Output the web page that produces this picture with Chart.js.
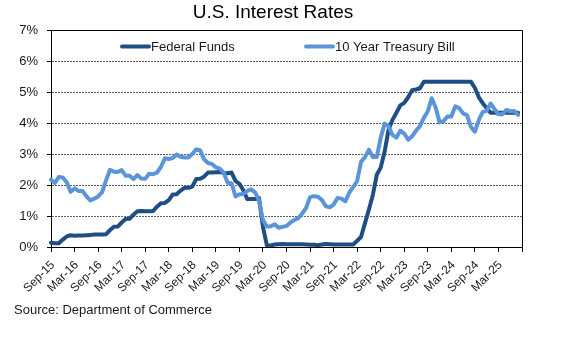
<!DOCTYPE html>
<html>
<head>
<meta charset="utf-8">
<script src="https://cdn.jsdelivr.net/npm/chart.js@4.4.1/dist/chart.umd.min.js"></script>
<style>
    html, body { margin: 0; padding: 0; background: #fff; }
</style>
</head>
<body>
<canvas id="tasas" width="580" height="340"></canvas>
<script>
// meses del eje X (el ultimo solo cierra el eje)
var meses = [
    'Sep-15', 'Oct-15', 'Nov-15', 'Dec-15',
    'Jan-16', 'Feb-16', 'Mar-16', 'Apr-16', 'May-16', 'Jun-16', 'Jul-16', 'Aug-16', 'Sep-16', 'Oct-16', 'Nov-16', 'Dec-16',
    'Jan-17', 'Feb-17', 'Mar-17', 'Apr-17', 'May-17', 'Jun-17', 'Jul-17', 'Aug-17', 'Sep-17', 'Oct-17', 'Nov-17', 'Dec-17',
    'Jan-18', 'Feb-18', 'Mar-18', 'Apr-18', 'May-18', 'Jun-18', 'Jul-18', 'Aug-18', 'Sep-18', 'Oct-18', 'Nov-18', 'Dec-18',
    'Jan-19', 'Feb-19', 'Mar-19', 'Apr-19', 'May-19', 'Jun-19', 'Jul-19', 'Aug-19', 'Sep-19', 'Oct-19', 'Nov-19', 'Dec-19',
    'Jan-20', 'Feb-20', 'Mar-20', 'Apr-20', 'May-20', 'Jun-20', 'Jul-20', 'Aug-20', 'Sep-20', 'Oct-20', 'Nov-20', 'Dec-20',
    'Jan-21', 'Feb-21', 'Mar-21', 'Apr-21', 'May-21', 'Jun-21', 'Jul-21', 'Aug-21', 'Sep-21', 'Oct-21', 'Nov-21', 'Dec-21',
    'Jan-22', 'Feb-22', 'Mar-22', 'Apr-22', 'May-22', 'Jun-22', 'Jul-22', 'Aug-22', 'Sep-22', 'Oct-22', 'Nov-22', 'Dec-22',
    'Jan-23', 'Feb-23', 'Mar-23', 'Apr-23', 'May-23', 'Jun-23', 'Jul-23', 'Aug-23', 'Sep-23', 'Oct-23', 'Nov-23', 'Dec-23',
    'Jan-24', 'Feb-24', 'Mar-24', 'Apr-24', 'May-24', 'Jun-24', 'Jul-24', 'Aug-24', 'Sep-24', 'Oct-24', 'Nov-24', 'Dec-24',
    'Jan-25', 'Feb-25', 'Mar-25', 'Apr-25', 'May-25', 'Jun-25', 'Jul-25', 'Aug-25', 'Sep-25'
];

var fedFunds = [
    0.14, 0.12, 0.12, 0.24,
    0.34, 0.38, 0.36, 0.37, 0.37, 0.38, 0.39, 0.40, 0.40, 0.40, 0.41, 0.54,
    0.65, 0.66, 0.79, 0.90, 0.91, 1.04, 1.15, 1.16, 1.15, 1.15, 1.16, 1.30,
    1.41, 1.42, 1.51, 1.69, 1.70, 1.82, 1.91, 1.91, 1.95, 2.19, 2.20, 2.27,
    2.40, 2.40, 2.41, 2.42, 2.39, 2.38, 2.40, 2.13, 2.04, 1.83, 1.55, 1.55,
    1.55, 1.58, 0.65, 0.05, 0.05, 0.08, 0.09, 0.10, 0.09, 0.09, 0.09, 0.09,
    0.09, 0.08, 0.07, 0.07, 0.06, 0.08, 0.10, 0.09, 0.08, 0.08, 0.08, 0.08,
    0.08, 0.08, 0.20, 0.33, 0.77, 1.21, 1.68, 2.33, 2.56, 3.08, 3.78, 4.10,
    4.33, 4.57, 4.65, 4.83, 5.06, 5.08, 5.12, 5.33, 5.33, 5.33, 5.33, 5.33,
    5.33, 5.33, 5.33, 5.33, 5.33, 5.33, 5.33, 5.33, 5.13, 4.83, 4.64, 4.48,
    4.33, 4.33, 4.33, 4.33, 4.33, 4.33, 4.33, 4.33
];

var treasury10 = [
    2.17, 2.07, 2.26, 2.24,
    2.09, 1.78, 1.89, 1.81, 1.81, 1.64, 1.50, 1.56, 1.63, 1.76, 2.14, 2.49,
    2.43, 2.42, 2.48, 2.30, 2.30, 2.19, 2.32, 2.21, 2.20, 2.36, 2.35, 2.40,
    2.58, 2.86, 2.84, 2.87, 2.98, 2.91, 2.89, 2.89, 3.00, 3.15, 3.12, 2.83,
    2.71, 2.68, 2.57, 2.53, 2.40, 2.07, 2.06, 1.63, 1.70, 1.71, 1.81, 1.86,
    1.76, 1.50, 0.87, 0.66, 0.67, 0.73, 0.62, 0.65, 0.68, 0.79, 0.87, 0.93,
    1.08, 1.26, 1.61, 1.64, 1.62, 1.52, 1.32, 1.28, 1.37, 1.58, 1.56, 1.47,
    1.76, 1.93, 2.13, 2.75, 2.90, 3.14, 2.90, 2.90, 3.52, 3.98, 3.89, 3.62,
    3.53, 3.75, 3.66, 3.46, 3.57, 3.75, 3.90, 4.17, 4.38, 4.80, 4.50, 4.02,
    4.06, 4.21, 4.21, 4.54, 4.48, 4.31, 4.25, 3.87, 3.72, 4.10, 4.36, 4.39,
    4.63, 4.45, 4.28, 4.28, 4.42, 4.38, 4.39, 4.26
];

var series = ['Federal Funds', '10 Year Treasury Bill'];
var colores = ['#1F4E84', '#5A95DA'];
var titulo = 'U.S. Interest Rates';
var fuente = 'Source: Department of Commerce';

var letra = '"Liberation Sans", Arial, sans-serif';

/*=============================================
PLUGINS: titulo, fuente, marco y leyenda
=============================================*/
var textos = {
    id: 'textos',
    afterDraw: function (chart) {
        var ctx = chart.ctx;
        ctx.save();
        ctx.fillStyle = '#000';
        ctx.textBaseline = 'alphabetic';
        ctx.font = '19px ' + letra;
        ctx.textAlign = 'center';
        ctx.fillText(titulo, 273, 18);
        ctx.font = '13px ' + letra;
        ctx.textAlign = 'left';
        ctx.fillStyle = '#1a1a1a';
        ctx.fillText(fuente, 14, 314);
        ctx.restore();
    }
};

var marco = {
    id: 'marco',
    beforeDatasetsDraw: function (chart) {
        var a = chart.chartArea;
        var ctx = chart.ctx;
        ctx.save();
        ctx.strokeStyle = '#000';
        ctx.lineWidth = 1;
        ctx.beginPath();
        ctx.moveTo(a.left - 4, a.top + 0.5);
        ctx.lineTo(a.right + 0.5, a.top + 0.5);
        ctx.lineTo(a.right + 0.5, a.bottom);
        ctx.stroke();
        ctx.restore();
    }
};

var leyenda = {
    id: 'leyenda',
    afterDatasetsDraw: function (chart) {
        var a = chart.chartArea;
        var ctx = chart.ctx;
        var y = a.top + 16.5;
        var xs = [a.left + 71, a.left + 255];
        ctx.save();
        ctx.font = '13px ' + letra;
        ctx.textBaseline = 'middle';
        ctx.textAlign = 'left';
        chart.data.datasets.forEach(function (ds, i) {
            ctx.strokeStyle = ds.borderColor;
            ctx.lineWidth = 4;
            ctx.lineCap = 'round';
            ctx.beginPath();
            ctx.moveTo(xs[i], y);
            ctx.lineTo(xs[i] + 27, y);
            ctx.stroke();
            ctx.fillStyle = '#1a1a1a';
            ctx.fillText(ds.label, xs[i] + 29, y + 0.5);
        });
        ctx.restore();
    }
};

var ctx = document.getElementById('tasas').getContext('2d');
new Chart(ctx, {
    type: 'line',
    data: {
        labels: meses,
        datasets: [{
            label: series[0],
            data: fedFunds,
            borderColor: colores[0],
            backgroundColor: colores[0],
            borderWidth: 4,
            order: 1
        }, {
            label: series[1],
            data: treasury10,
            borderColor: colores[1],
            backgroundColor: colores[1],
            borderWidth: 4,
            order: 0
        }]
    },
    options: {
        responsive: false,
        animation: false,
        devicePixelRatio: 1,
        layout: {
            padding: { top: 30, right: 58, bottom: 0, left: 0 }
        },
        elements: {
            point: { radius: 0 },
            line: { tension: 0, borderJoinStyle: 'round', borderCapStyle: 'round' }
        },
        plugins: {
            legend: { display: false },
            title: { display: false },
            tooltip: { enabled: false }
        },
        scales: {
            x: {
                offset: false,
                afterFit: function (s) { s.height = 93; },
                border: { display: true, color: '#000', width: 1 },
                grid: {
                    drawOnChartArea: false,
                    drawTicks: true,
                    tickLength: 5,
                    color: function (c) {
                        return c.index % 6 === 0 ? '#000' : 'rgba(0,0,0,0)';
                    }
                },
                ticks: {
                    autoSkip: false,
                    minRotation: 45,
                    maxRotation: 45,
                    padding: 6,
                    labelOffset: 2,
                    color: '#1a1a1a',
                    font: { family: letra, size: 12 },
                    callback: function (val, i) {
                        return (i % 6 === 0 && i < meses.length - 1) ? meses[i] : '';
                    }
                }
            },
            y: {
                min: 0,
                max: 7,
                afterFit: function (s) { s.width = 51; },
                border: { display: true, color: '#000', width: 1, dash: [2, 1] },
                grid: {
                    drawTicks: true,
                    tickLength: 4,
                    tickColor: '#000',
                    tickBorderDash: [],
                    lineWidth: 1,
                    color: function (c) {
                        return (c.tick.value === 0 || c.tick.value === 7) ? 'rgba(0,0,0,0)' : '#606060';
                    }
                },
                ticks: {
                    stepSize: 1,
                    padding: 9,
                    color: '#1a1a1a',
                    font: { family: letra, size: 13 },
                    callback: function (v) { return v + '%'; }
                }
            }
        }
    },
    plugins: [textos, marco, leyenda]
});
</script>
</body>
</html>
